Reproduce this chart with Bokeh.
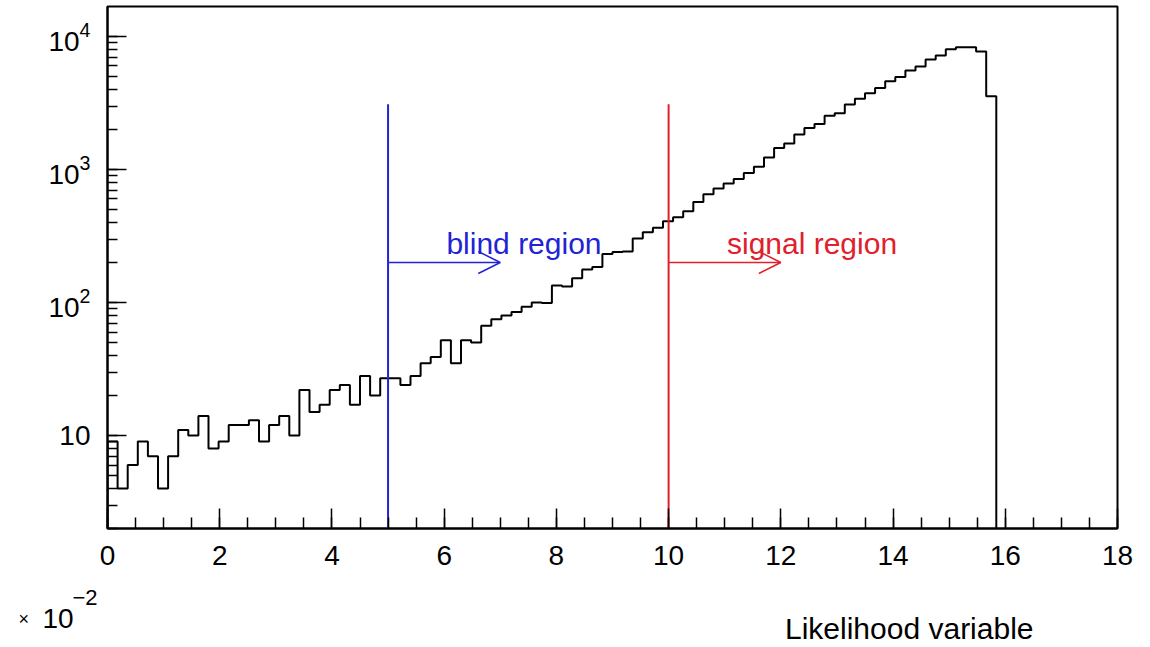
import numpy as np
from bokeh.plotting import figure
from bokeh.layouts import column
from bokeh.models import (Range1d, SingleIntervalTicker, LogTicker, LogTickFormatter,
                          Label, Arrow, OpenHead)
from bokeh.embed import file_html
from bokeh.resources import INLINE

# Likelihood variable histogram (x in units of 1e-2), bins of width 0.18
bin_width = 0.18
counts = [9, 4, 6, 9, 7, 4, 7, 11, 10, 14,
          8, 9, 12, 12, 13, 9, 12, 14, 10, 22,
          15, 17, 22, 24, 17, 28, 20, 27, 27, 24,
          28, 35, 39, 52, 35, 52, 50, 67, 75, 80,
          85, 93, 100, 99, 134, 132, 152, 177, 185, 232,
          240, 242, 303, 338, 365, 408, 438, 485, 570, 650,
          720, 785, 850, 940, 1050, 1230, 1450, 1570, 1830, 2050,
          2200, 2540, 2650, 3080, 3400, 3750, 4100, 4600, 4950, 5550,
          5950, 6700, 7200, 8000, 8300, 8300, 7700, 3550]

x_ticks = [0, 2, 4, 6, 8, 10, 12, 14, 16, 18]
y_ticks = [10, 100, 1000, 10000]

# cut values and their annotations
blind_cut = 5.0
signal_cut = 10.0
cut_line_top = 3100
arrow_level = 200
arrow_length = 2.0
blind_text = "blind region"
signal_text = "signal region"
x_title = "Likelihood variable"
x_exponent = "\u22122"

X_LO, X_HI = 0.0, 18.0
Y_LO, Y_HI = 2.0, 1.68e4

FONT = "Liberation Sans"
BLUE = "#2323d6"
RED = "#e0202c"

W = 1150
MAIN_H = 585
FOOT_H = 62

p = figure(width=W, height=MAIN_H,
           x_range=Range1d(X_LO, X_HI), y_range=Range1d(Y_LO, Y_HI),
           y_axis_type="log", output_backend="svg", toolbar_location=None,
           min_border_left=107, min_border_right=33,
           min_border_top=6, min_border_bottom=57)
p.background_fill_color = "white"
p.border_fill_color = "white"
p.outline_line_color = "black"
p.outline_line_width = 2
p.xgrid.visible = False
p.ygrid.visible = False

# x axis: labelled every 2, minor ticks every 0.5, ticks pointing inward
xa = p.xaxis[0]
xa.ticker = SingleIntervalTicker(interval=2, num_minor_ticks=4)
xa.major_tick_in = 20
xa.major_tick_out = 0
xa.minor_tick_in = 11
xa.minor_tick_out = 0
xa.major_tick_line_width = 1.5
xa.minor_tick_line_width = 1.5
xa.axis_line_width = 2
xa.major_label_standoff = 17
xa.major_label_text_font = FONT
xa.major_label_text_font_size = "28px"
xa.major_label_text_color = "black"

# y axis: log decades with 2..9 minor ticks; the first decade is written plainly
ya = p.yaxis[0]
ya.ticker = LogTicker(desired_num_ticks=4, num_minor_ticks=10)
ya.formatter = LogTickFormatter()
ya.major_label_overrides = {y_ticks[0]: str(y_ticks[0])}
ya.major_tick_in = 19
ya.major_tick_out = 0
ya.minor_tick_in = 10
ya.minor_tick_out = 0
ya.major_tick_line_width = 1.5
ya.minor_tick_line_width = 1.5
ya.axis_line_width = 2
ya.major_label_standoff = 17
ya.major_label_text_font = FONT
ya.major_label_text_font_size = "28px"
ya.major_label_text_color = "black"

# histogram outline as a step path, dropping to the frame floor at both ends
edges = np.arange(len(counts) + 1) * bin_width
xs = np.repeat(edges, 2)
ys = np.concatenate([[Y_LO], np.repeat(np.asarray(counts, dtype=float), 2), [Y_LO]])
p.line(xs, ys, line_color="black", line_width=2)

# cut lines with arrows pointing into the selected region
for cut, color, text in ((blind_cut, BLUE, blind_text), (signal_cut, RED, signal_text)):
    p.line([cut, cut], [Y_LO, cut_line_top], line_color=color, line_width=2)
    p.add_layout(Arrow(end=OpenHead(size=22, line_color=color, line_width=1.5),
                       x_start=cut, y_start=arrow_level,
                       x_end=cut + arrow_length, y_end=arrow_level,
                       line_color=color, line_width=1.5))
    p.add_layout(Label(x=cut + 1.04, y=280, text=text, text_color=color,
                       text_font=FONT, text_font_size="30px",
                       text_baseline="alphabetic", text_align="left"))

# footer strip below the axis: axis exponent on the left, axis title on the right;
# its frame covers the whole strip and is not aligned to the histogram frame
foot = figure(frame_width=W, frame_height=FOOT_H, title=None,
              x_range=Range1d(0, W), y_range=Range1d(0, FOOT_H),
              x_axis_location=None, y_axis_location=None,
              output_backend="svg", toolbar_location=None, min_border=0)
foot.frame_align = False
foot.grid.visible = False
foot.outline_line_color = None
foot.background_fill_color = "white"
foot.border_fill_color = "white"

common = dict(x_units="screen", y_units="screen", text_font=FONT,
              text_baseline="alphabetic", text_color="black")
foot.add_layout(Label(x=1033, y=19, text=x_title, text_font_size="30px",
                      text_align="right", **common))
foot.add_layout(Label(x=18, y=29, text="\u00d7", text_font_size="18px",
                      text_align="left", **common))
foot.add_layout(Label(x=42, y=29, text="10", text_font_size="28px",
                      text_align="left", **common))
foot.add_layout(Label(x=72, y=50, text=x_exponent, text_font_size="22px",
                      text_align="left", **common))

layout = column(p, foot, spacing=0)
open("out.html", "w").write(file_html(layout, INLINE))
